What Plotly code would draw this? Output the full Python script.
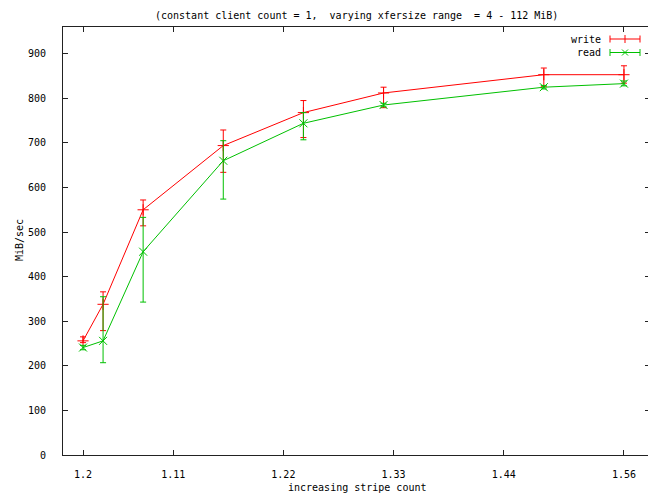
import plotly.graph_objects as go

# ---- data ----
stripe_count = [2, 4, 8, 16, 24, 32, 48, 56]
write_mean = [256, 338, 550, 694, 768, 812, 853, 853]
write_high = [265, 366, 572, 729, 795, 825, 868, 873]
write_low = [252, 279, 514, 634, 712, 779, 826, 834]
read_mean = [241, 256, 456, 660, 744, 785, 825, 833]
read_high = [246, 355, 533, 705, 768, 789, 829, 839]
read_low = [236, 207, 343, 574, 707, 781, 821, 828]

x_tick_vals = [2, 11, 22, 33, 44, 56]
x_tick_text = ["1.2", "1.11", "1.22", "1.33", "1.44", "1.56"]
y_tick_vals = [0, 100, 200, 300, 400, 500, 600, 700, 800, 900]

title_text = "(constant client count = 1,  varying xfersize range  = 4 - 112 MiB)"
x_title = "increasing stripe count"
y_title = "MiB/sec"

RED = "#ff0000"
GREEN = "#00c000"
FONT = "DejaVu Sans Mono"

OFF = 8  # default page body margin
W, H = 656 - OFF, 495 - OFF
# plot area in screenshot pixels
SL, SR, ST, SB = 63, 650, 27, 455
L, R, T, B = SL - OFF, SR - OFF, ST - OFF, SB - OFF


def err(mean, hi, lo):
    return [h - m for m, h in zip(mean, hi)], [m - l for m, l in zip(mean, lo)]


fig = go.Figure()

for name, mean, hi, lo, color, sym in [
    ("write", write_mean, write_high, write_low, RED, "cross-thin"),
    ("read", read_mean, read_high, read_low, GREEN, "x-thin"),
]:
    up, down = err(mean, hi, lo)
    fig.add_trace(go.Scatter(
        x=stripe_count, y=mean, name=name, mode="lines+markers",
        line=dict(color=color, width=1),
        marker=dict(symbol=sym, size=8, line=dict(color=color, width=1), color=color),
        error_y=dict(type="data", array=up, arrayminus=down, symmetric=False,
                     color=color, thickness=1, width=3),
        showlegend=False,
    ))


def px(xp):
    return (xp - SL) / (SR - SL)


def py(yp):
    return (SB - yp) / (SB - ST)


shapes = []
annotations = []
# gnuplot-style key (text on left, sample on right)
for i, (name, color, kind) in enumerate([("write", RED, "+"), ("read", GREEN, "x")]):
    yrow = 39 + i * 13.5
    annotations.append(dict(x=px(603), y=py(yrow), xref="paper", yref="paper",
                            text=name, showarrow=False, xanchor="right", yanchor="middle",
                            font=dict(family=FONT, size=10, color="black")))
    ln = dict(color=color, width=1)
    shapes.append(dict(type="line", xref="paper", yref="paper",
                       x0=px(610), x1=px(640), y0=py(yrow), y1=py(yrow), line=ln))
    for xe in (610, 640):
        shapes.append(dict(type="line", xref="paper", yref="paper",
                           x0=px(xe), x1=px(xe), y0=py(yrow - 3.5), y1=py(yrow + 3.5), line=ln))
    if kind == "+":
        shapes.append(dict(type="line", xref="paper", yref="paper",
                           x0=px(625), x1=px(625), y0=py(yrow - 4), y1=py(yrow + 4), line=ln))
    else:
        shapes.append(dict(type="line", xref="paper", yref="paper",
                           x0=px(622), x1=px(628), y0=py(yrow - 3), y1=py(yrow + 3), line=ln))
        shapes.append(dict(type="line", xref="paper", yref="paper",
                           x0=px(622), x1=px(628), y0=py(yrow + 3), y1=py(yrow - 3), line=ln))

annotations.append(dict(x=0.5, y=py(488), xref="paper", yref="paper", text=x_title,
                        showarrow=False, xanchor="center", yanchor="middle",
                        font=dict(family=FONT, size=10, color="black")))
annotations.append(dict(x=px(19), y=py(240), xref="paper", yref="paper", text=y_title,
                        showarrow=False, xanchor="center", yanchor="middle", textangle=-90,
                        font=dict(family=FONT, size=10, color="black")))
annotations.append(dict(x=0.5, y=py(15), xref="paper", yref="paper", text=title_text,
                        showarrow=False, xanchor="center", yanchor="middle",
                        font=dict(family=FONT, size=10, color="black")))

axis_common = dict(showline=True, linecolor="#222222", linewidth=1, mirror="allticks",
                   ticks="inside", ticklen=5, tickcolor="#222222", tickwidth=1,
                   showgrid=False, zeroline=False,
                   tickfont=dict(family=FONT, size=10, color="black"))

fig.update_layout(
    width=W, height=H, autosize=False,
    margin=dict(l=L, r=W - R, t=T, b=H - B, pad=0),
    paper_bgcolor="white", plot_bgcolor="white",
    xaxis=dict(range=[0, 58.6], tickmode="array", tickvals=x_tick_vals,
               ticktext=x_tick_text, ticklabelstandoff=10, **axis_common),
    yaxis=dict(range=[0, 960], tickmode="array", tickvals=y_tick_vals,
               ticklabelstandoff=14, **axis_common),
    shapes=shapes, annotations=annotations,
)

fig.write_html("out.html")
